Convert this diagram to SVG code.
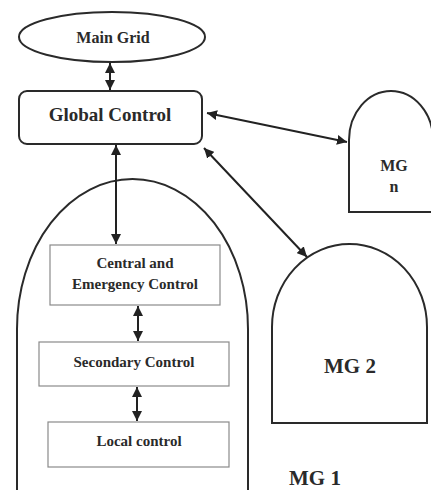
<svg xmlns="http://www.w3.org/2000/svg" width="431" height="490" viewBox="0 0 431 490">
<style>
.shape{fill:#fff;stroke:#2a2a2a;stroke-width:2}
.inner{fill:#fff;stroke:#8a8a8a;stroke-width:1.2}
.t{font-family:"Liberation Serif","Times New Roman",serif;font-weight:bold;fill:#2a2a2a;text-anchor:middle}
.s{font-size:15px}
.c{stroke:#222;stroke-width:2;fill:none;marker-start:url(#ah);marker-end:url(#ah)}
</style>
<defs>
<marker id="ah" viewBox="0 0 10 10" refX="10" refY="5" markerWidth="5" markerHeight="5" orient="auto-start-reverse" markerUnits="strokeWidth">
<path d="M0,0 L10,5 L0,10 Z" fill="#222"/>
</marker>
</defs>
<rect width="431" height="490" fill="#fff"/>
<g id="mg1">
<path class="shape" d="M17,492 L17,329 A115.5,150 0 0 1 248,329 L248,492"/>
<text class="t" x="315" y="485" font-size="21">MG 1</text>
</g>
<g id="main-grid">
<ellipse class="shape" cx="112" cy="37" rx="93" ry="25"/>
<text class="t" x="113" y="43" font-size="16">Main Grid</text>
</g>
<g id="global-control">
<rect class="shape" x="19" y="91" width="183" height="53" rx="8"/>
<text class="t" x="110" y="121" font-size="19">Global Control</text>
</g>
<g id="mg-n">
<path class="shape" d="M349,212 L349,140 A42,49 0 0 1 433,140 L433,212 Z"/>
<text class="t" x="394" y="171" font-size="16">MG</text>
<text class="t" x="394" y="192" font-size="16">n</text>
</g>
<g id="mg2">
<path class="shape" d="M272,423 L272,327 A77.5,83 0 0 1 427,327 L427,423 Z"/>
<text class="t" x="350" y="373" font-size="21">MG 2</text>
</g>
<g id="central">
<rect class="inner" x="50" y="245" width="170" height="60"/>
<text class="t s" x="135" y="268">Central and</text>
<text class="t s" x="135" y="289">Emergency Control</text>
</g>
<g id="secondary">
<rect class="inner" x="39" y="342" width="190" height="44"/>
<text class="t s" x="134" y="367">Secondary Control</text>
</g>
<g id="local">
<rect class="inner" x="48" y="422" width="181" height="45"/>
<text class="t s" x="139" y="446">Local control</text>
</g>
<g id="connectors">
<line class="c" x1="110" y1="63" x2="110" y2="90"/>
<line class="c" x1="116" y1="145" x2="116" y2="244"/>
<line class="c" x1="207" y1="113" x2="347" y2="142"/>
<line class="c" x1="204" y1="148" x2="307" y2="257"/>
<line class="c" x1="138" y1="306" x2="138" y2="341"/>
<line class="c" x1="137" y1="387" x2="137" y2="421"/>
</g>
</svg>
